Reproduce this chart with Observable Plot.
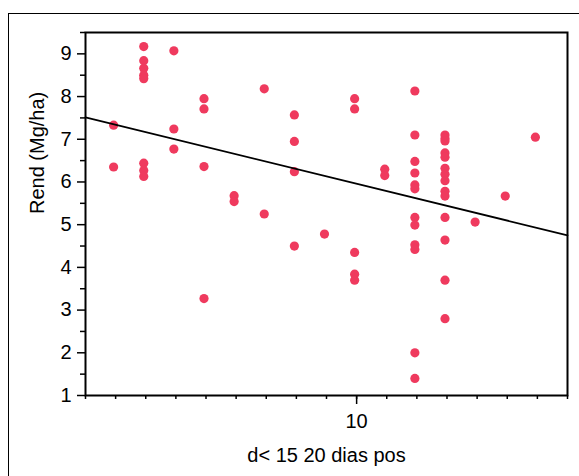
<!DOCTYPE html>
<html><head><meta charset="utf-8">
<script src="https://cdn.jsdelivr.net/npm/d3@7"></script>
<script src="https://cdn.jsdelivr.net/npm/@observablehq/plot@0.6"></script>
<style>
body{margin:0;background:#fff;overflow:hidden}
#wrap{position:relative;width:579px;height:476px;overflow:hidden}
#border{position:absolute;left:8px;top:13px;width:600px;height:600px;border:1.5px solid #000;box-sizing:border-box;pointer-events:none}
svg{position:absolute;left:0;top:0}
</style></head><body><div id="wrap"><div id="border"></div></div>
<script>
// x: days (d< 15 20 dias pos), y: Rend (Mg/ha)
const xVals = [
  2,2,
  3,3,3,3,3,3,3,3,
  4,4,4,
  5,5,5,5,
  6,6,
  7,7,
  8,8,8,8,
  9,
  10,10,10,10,10,
  11,11,
  12,12,12,12,12,12,12,12,12,12,12,12,
  13,13,13,13,13,13,13,13,13,13,13,13,13,13,
  14,
  15,
  16
];
const yVals = [
  7.33,6.35,
  9.17,8.84,8.66,8.5,8.42,6.44,6.27,6.13,
  9.07,7.24,6.77,
  7.95,7.71,6.36,3.27,
  5.68,5.54,
  8.18,5.25,
  7.57,6.95,6.24,4.5,
  4.78,
  7.95,7.71,4.35,3.84,3.7,
  6.3,6.15,
  8.13,7.1,6.48,6.21,5.93,5.84,5.17,4.99,4.53,4.42,2.0,1.4,
  7.1,7.02,6.96,6.68,6.58,6.32,6.18,6.03,5.78,5.67,5.17,4.64,3.7,2.8,
  5.06,
  5.67,
  7.05
];
const xDomain = [1, 17];
const yDomain = [1, 9.5];
const xMinorTicks = d3.range(1, 18);
const xMajorTicks = [10];
const yMajorTicks = d3.range(1, 10);
const yMinorTicks = d3.range(1.5, 10, 1);
const fitIntercept = 7.6825;
const fitSlope = -0.1725;
const xLabel = "d< 15 20 dias pos";
const yLabel = "Rend (Mg/ha)";

const points = xVals.map((x, i) => ({x, y: yVals[i]}));
const fitLine = xDomain.map(x => ({x, y: fitIntercept + fitSlope * x}));

const chart = Plot.plot({
  width: 579, height: 476,
  marginLeft: 85, marginRight: 12, marginTop: 32, marginBottom: 81,
  style: {fontFamily: "'Liberation Sans', Arial, sans-serif", fontSize: "20px", color: "#000", background: "transparent"},
  x: {domain: xDomain},
  y: {domain: yDomain},
  marks: [
    Plot.axisX({ticks: xMinorTicks, tickSize: 4, strokeWidth: 1.5, tickFormat: () => "", label: null}),
    Plot.axisX({ticks: xMajorTicks, tickSize: 9, tickPadding: 9, strokeWidth: 1.5, label: null}),
    Plot.axisY({ticks: yMinorTicks, tickSize: 5, strokeWidth: 1.5, tickFormat: () => "", label: null}),
    Plot.axisY({ticks: yMajorTicks, tickSize: 8, tickPadding: 6, strokeWidth: 1.5, label: null}),
    Plot.text([xLabel], {text: d => d, frameAnchor: "bottom", dy: 66, fontSize: 20, fill: "#000"}),
    Plot.text([yLabel], {text: d => d, frameAnchor: "left", dx: -48, rotate: -90, fontSize: 20, fill: "#000"}),
    Plot.dot(points, {x: "x", y: "y", dx: -2, r: 4.6, fill: "#ef3a5e", stroke: "none"}),
    Plot.line(fitLine, {x: "x", y: "y", stroke: "#000", strokeWidth: 1.8}),
    Plot.frame({stroke: "#000", strokeWidth: 2})
  ]
});
document.getElementById("wrap").appendChild(chart);
</script>
</body></html>
